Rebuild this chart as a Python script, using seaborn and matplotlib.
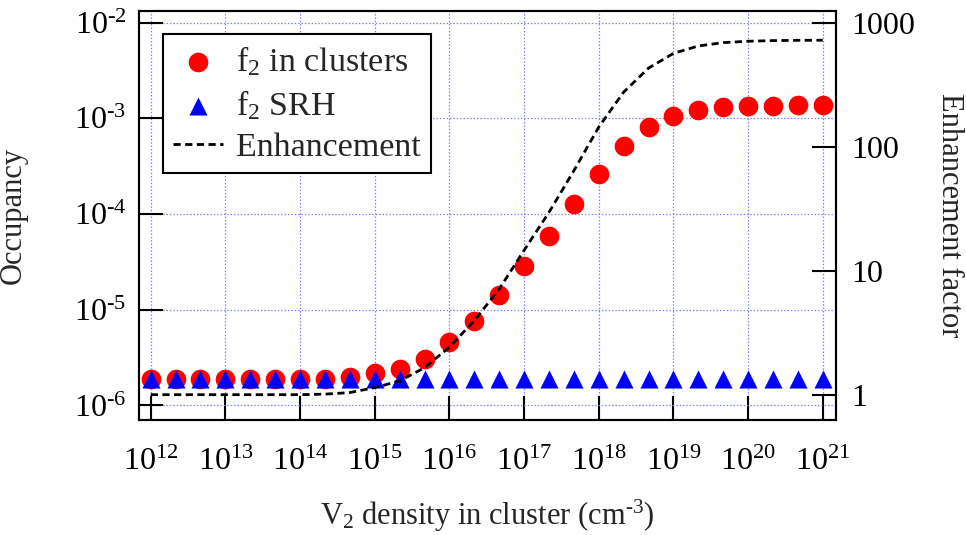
import numpy as np
import pandas as pd
import seaborn as sns
import matplotlib
matplotlib.use("Agg")
from matplotlib import pyplot as plt
from matplotlib import ticker

# values
density = [1e12, 2.15e12, 4.64e12, 1e13, 2.15e13, 4.64e13, 1e14, 2.15e14, 4.64e14,
           1e15, 2.15e15, 4.64e15, 1e16, 2.15e16, 4.64e16, 1e17, 2.15e17, 4.64e17,
           1e18, 2.15e18, 4.64e18, 1e19, 2.15e19, 4.64e19, 1e20, 2.15e20, 4.64e20, 1e21]
f2_clusters = [1.87e-6, 1.87e-6, 1.87e-6, 1.87e-6, 1.87e-6, 1.87e-6, 1.88e-6, 1.9e-6, 2.0e-6,
               2.2e-6, 2.43e-6, 3.09e-6, 4.57e-6, 7.57e-6, 1.44e-5, 2.88e-5, 5.93e-5, 1.26e-4,
               2.61e-4, 5.08e-4, 8.2e-4, 1.06e-3, 1.23e-3, 1.30e-3, 1.34e-3, 1.36e-3, 1.37e-3, 1.37e-3]
f2_srh = [1.87e-6, 1.87e-6, 1.87e-6, 1.87e-6, 1.87e-6, 1.87e-6, 1.87e-6, 1.87e-6, 1.87e-6,
          1.87e-6, 1.87e-6, 1.87e-6, 1.87e-6, 1.87e-6, 1.87e-6, 1.87e-6, 1.87e-6, 1.87e-6,
          1.87e-6, 1.87e-6, 1.87e-6, 1.87e-6, 1.87e-6, 1.87e-6, 1.87e-6, 1.87e-6, 1.87e-6, 1.87e-6]
enhancement = [1.0, 1.0, 1.0, 1.0, 1.0, 1.0, 1.0, 1.01, 1.04,
               1.14, 1.29, 1.65, 2.42, 3.95, 7.1, 14.6, 29.5, 64,
               144, 275, 430, 565, 648, 690, 708, 716, 720, 721]

x_ticks = [1e12, 1e13, 1e14, 1e15, 1e16, 1e17, 1e18, 1e19, 1e20, 1e21]
x_labels = [r"$10^{12}$", r"$10^{13}$", r"$10^{14}$", r"$10^{15}$", r"$10^{16}$",
            r"$10^{17}$", r"$10^{18}$", r"$10^{19}$", r"$10^{20}$", r"$10^{21}$"]
left_ticks = [1e-6, 1e-5, 1e-4, 1e-3, 1e-2]
left_labels = [r"$10^{\text{-}6}$", r"$10^{\text{-}5}$", r"$10^{\text{-}4}$",
               r"$10^{\text{-}3}$", r"$10^{\text{-}2}$"]
right_ticks = [1, 10, 100, 1000]
right_labels = ["1", "10", "100", "1000"]

df = pd.DataFrame({"density": density, "f2_clusters": f2_clusters,
                   "f2_srh": f2_srh, "enhancement": enhancement})

sns.set_theme(style="ticks")
plt.rcParams["font.family"] = ["Liberation Serif", "DejaVu Serif"]
plt.rcParams["mathtext.fontset"] = "custom"
plt.rcParams["mathtext.rm"] = "Liberation Serif"
plt.rcParams["mathtext.it"] = "Liberation Serif:italic"
plt.rcParams["axes.unicode_minus"] = False

fs = 22
tfs = 23
fig = plt.figure(figsize=(9.66, 5.35), dpi=100)
ax = fig.add_axes([0.1438, 0.215, 0.7212, 0.7645])

sns.scatterplot(data=df, x="density", y="f2_clusters", ax=ax, color="red", marker="o",
                s=200, linewidth=0, label="f$_2$ in clusters", zorder=3)
sns.scatterplot(data=df, x="density", y="f2_srh", ax=ax, color="blue", marker="^",
                s=169, linewidth=0, label="f$_2$ SRH", zorder=4)
ax.set_xscale("log")
ax.set_yscale("log")
ax.set_xlim(10 ** 11.842, 10 ** 21.171)
ax.set_ylim(10 ** -6.152, 10 ** -1.878)
ax.set_xticks(x_ticks)
ax.set_xticklabels(x_labels)
ax.set_yticks(left_ticks)
ax.set_yticklabels(left_labels)
ax.xaxis.set_minor_locator(ticker.NullLocator())
ax.yaxis.set_minor_locator(ticker.NullLocator())
ax.grid(True, which="major", color="#8080ff", linestyle=(0, (1.2, 1.5)), linewidth=0.9)
ax.tick_params(axis="both", which="major", direction="in", length=17, width=1.5,
               labelsize=tfs, colors="black")
ax.tick_params(axis="x", pad=20)
ax.tick_params(axis="y", pad=9)

ax2 = ax.twinx()
sns.lineplot(data=df, x="density", y="enhancement", ax=ax2, color="black",
             linestyle=(0, (2.6, 1.6)), linewidth=2.0, label="Enhancement")
ax2.set_yscale("log")
ax2.set_ylim(10 ** -0.204, 10 ** 3.094)
ax2.set_yticks(right_ticks)
ax2.set_yticklabels(right_labels)
ax2.yaxis.set_minor_locator(ticker.NullLocator())
ax2.tick_params(axis="y", which="major", direction="in", length=17, width=1.5,
                labelsize=tfs, pad=11, colors="black")

for a in (ax, ax2):
    for sp in a.spines.values():
        sp.set_linewidth(1.5)
        sp.set_color("black")

ax.set_xlabel("V$_2$ density in cluster (cm$^{\\text{-}3}$)", fontsize=fs)
ax.set_ylabel("Occupancy", fontsize=fs)
ax2.set_ylabel("Enhancement factor", fontsize=fs, rotation=270, va="bottom")
ax.xaxis.set_label_coords(0.5, -0.19)
ax.yaxis.set_label_coords(-0.16, 0.5)
ax2.yaxis.set_label_coords(1.142, 0.5)

h1, l1 = ax.get_legend_handles_labels()
h2, l2 = ax2.get_legend_handles_labels()
ax.get_legend().remove()
ax2.get_legend().remove()
leg = ax2.legend(h1 + h2, l1 + l2, loc="upper left", bbox_to_anchor=(0.0346, 0.944),
                 borderaxespad=0, fontsize=24.5, frameon=True, fancybox=False,
                 framealpha=1, edgecolor="black", handlelength=1.45, handletextpad=0.4,
                 labelspacing=0.3, borderpad=0.3)
leg.get_frame().set_linewidth(1.5)

fig.savefig("out.png", dpi=100)
